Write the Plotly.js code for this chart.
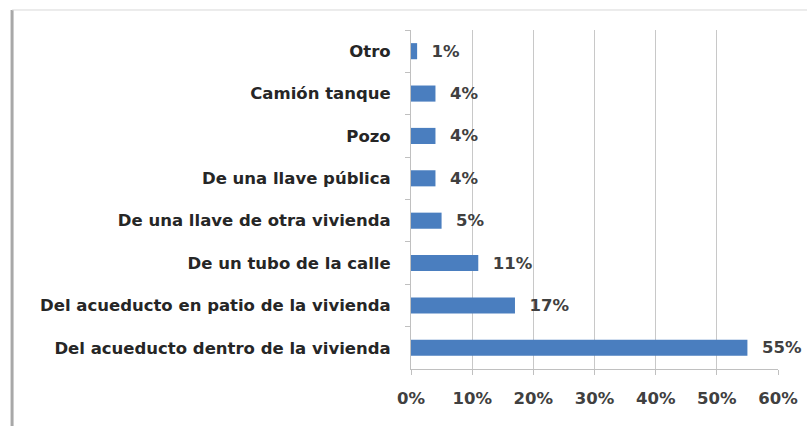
<!DOCTYPE html>
<html><head><meta charset="utf-8">
<script src="https://cdn.plot.ly/plotly-3.0.1.min.js"></script>
<style>html,body{margin:0;padding:0;background:#fff}#c{width:807px;height:426px}</style>
</head><body><div id="c"></div>
<script>
const categories = ["Otro","Camión tanque","Pozo","De una llave pública","De una llave de otra vivienda","De un tubo de la calle","Del acueducto en patio de la vivienda","Del acueducto dentro de la vivienda"];
const values = [1,4,4,4,5,11,17,55];
const xTicks = [0,10,20,30,40,50,60];
const labels = values.map(v => "  " + v + "%");

const F = "DejaVu Sans";
const trace = {
  type: "bar", orientation: "h",
  x: values, y: categories,
  text: labels, textposition: "outside", cliponaxis: false, constraintext: "none",
  textfont: {family: F, size: 16.5, color: "#404040", weight: 700},
  marker: {color: "#4a7ebf", line: {width: 0}},
  width: 0.38, hoverinfo: "none"
};
const layout = {
  width: 807, height: 426,
  margin: {l: 411, r: 29, t: 30, b: 57},
  paper_bgcolor: "#fff", plot_bgcolor: "#fff",
  showlegend: false,
  xaxis: {
    range: [0, 60], tickvals: xTicks, ticktext: xTicks.map(t => t + "%"),
    showgrid: true, gridcolor: "#c8c8c8", gridwidth: 1,
    zeroline: false, showline: true, linecolor: "#c0c0c0",
    ticks: "outside", ticklen: 5, tickcolor: "#c0c0c0",
    ticklabelstandoff: 9,
    tickfont: {family: F, size: 16.5, color: "#404040", weight: 700}
  },
  yaxis: {
    autorange: "reversed", type: "category",
    showgrid: false, zeroline: false, showline: true, linecolor: "#c0c0c0",
    ticks: "outside", ticklen: 5, tickcolor: "#c0c0c0", tickson: "boundaries",
    ticklabelstandoff: 16,
    tickfont: {family: F, size: 16.5, color: "#262626", weight: 700}
  },
  shapes: [
    {type: "line", xref: "paper", yref: "paper", x0: -1.087, x1: -1.087, y0: 1.059, y1: -0.2, line: {color: "#a8a8a8", width: 3}},
    {type: "line", xref: "paper", yref: "paper", x0: -1.087, x1: 1.08, y0: 1.059, y1: 1.059, line: {color: "#d8d8d8", width: 1}}
  ]
};
Plotly.newPlot("c", [trace], layout, {displayModeBar: false, staticPlot: true});
</script></body></html>
